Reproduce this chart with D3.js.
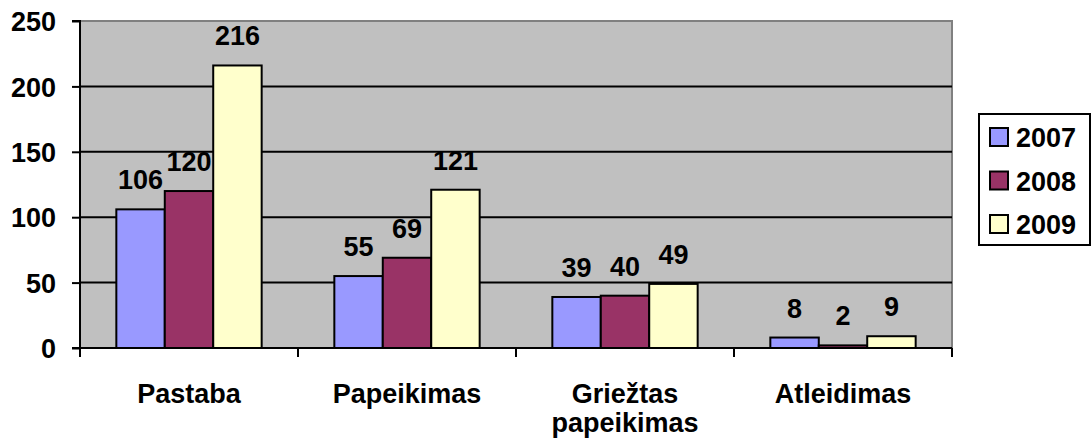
<!DOCTYPE html>
<html>
<head>
<meta charset="utf-8">
<script src="https://cdn.jsdelivr.net/npm/d3@7"></script>
<style>
  body { margin: 0; background: #fff; }
  text { font-family: "Liberation Sans", Arial, sans-serif; font-weight: bold; }
</style>
</head>
<body>
<div id="chart"></div>
<script>
// chart data
const categories = ["Pastaba", "Papeikimas", "Griežtas papeikimas", "Atleidimas"];
const years = ["2007", "2008", "2009"];
const values2007 = [106, 55, 39, 8];
const values2008 = [120, 69, 40, 2];
const values2009 = [216, 121, 49, 9];
const yTicks = [0, 50, 100, 150, 200, 250];

const series = [values2007, values2008, values2009];
const colors = ["#9999FF", "#993366", "#FFFFCC"];
const fontSize = 27;

// canvas
let width = 1092;
let height = 443;
let margin = {top: 21, right: 140, bottom: 95, left: 80};

const svg = d3.select("#chart").append("svg")
    .attr("width", width)
    .attr("height", height);

// scales
const x0 = d3.scaleBand()
    .domain(categories)
    .range([margin.left, width - margin.right])
    .paddingInner(0)
    .paddingOuter(0);

// gap width 150% -> bars take 3 / 4.5 of the category
const groupW = x0.bandwidth() * 3 / 4.5;
const x1 = d3.scaleBand()
    .domain(years)
    .range([0, groupW]);

const yScale = d3.scaleLinear()
    .domain([0, 250])
    .range([height - margin.bottom, margin.top]);

// plot background
svg.append("rect")
    .attr("x", margin.left)
    .attr("y", margin.top)
    .attr("width", width - margin.right - margin.left)
    .attr("height", height - margin.bottom - margin.top)
    .attr("fill", "#C0C0C0")
    .attr("stroke", "#808080")
    .attr("stroke-width", 2);

// gridlines
svg.selectAll("line.grid")
    .data(yTicks.filter(d => d > 0 && d < 250))
    .enter()
    .append("line")
    .attr("class", "grid")
    .attr("x1", margin.left)
    .attr("x2", width - margin.right)
    .attr("y1", d => yScale(d))
    .attr("y2", d => yScale(d))
    .attr("stroke", "#000")
    .attr("stroke-width", 2);

// bars
const groups = svg.selectAll("g.group")
    .data(categories)
    .enter()
    .append("g")
    .attr("class", "group")
    .attr("transform", d => `translate(${x0(d) + (x0.bandwidth() - groupW) / 2}, 0)`);

groups.selectAll("rect")
    .data((c, i) => years.map((yr, j) => ({year: yr, value: series[j][i], color: colors[j]})))
    .enter()
    .append("rect")
    .attr("x", d => x1(d.year))
    .attr("y", d => yScale(d.value))
    .attr("width", x1.bandwidth())
    .attr("height", d => yScale(0) - yScale(d.value))
    .attr("fill", d => d.color)
    .attr("stroke", "#000")
    .attr("stroke-width", 2);

// value labels
groups.selectAll("text")
    .data((c, i) => years.map((yr, j) => ({year: yr, value: series[j][i]})))
    .enter()
    .append("text")
    .attr("x", d => x1(d.year) + x1.bandwidth() / 2)
    .attr("y", d => yScale(d.value) - 20)
    .attr("text-anchor", "middle")
    .attr("font-size", fontSize)
    .text(d => d.value);

// y axis
const yAxis = d3.axisLeft(yScale).tickValues(yTicks).tickSize(8).tickPadding(16);
const gy = svg.append("g")
    .attr("transform", `translate(${margin.left}, 0)`)
    .call(yAxis);
gy.select(".domain").attr("stroke", "#000").attr("stroke-width", 2)
    .attr("d", `M-8,${yScale(250)}H0V${yScale(0)}`);
gy.selectAll(".tick line").attr("stroke-width", 2);
gy.selectAll(".tick text")
    .attr("font-size", fontSize)
    .attr("font-weight", "bold")
    .attr("font-family", "Liberation Sans, Arial, sans-serif")
    .attr("fill", "#000")
    .attr("dy", "0.36em");

// x axis line and ticks at category boundaries
svg.append("line")
    .attr("x1", margin.left - 8)
    .attr("x2", width - margin.right)
    .attr("y1", yScale(0))
    .attr("y2", yScale(0))
    .attr("stroke", "#000")
    .attr("stroke-width", 2);

const boundaries = categories.map(c => x0(c)).concat([width - margin.right]);
svg.selectAll("line.xtick")
    .data(boundaries)
    .enter()
    .append("line")
    .attr("class", "xtick")
    .attr("x1", d => d)
    .attr("x2", d => d)
    .attr("y1", yScale(0))
    .attr("y2", yScale(0) + 9)
    .attr("stroke", "#000")
    .attr("stroke-width", 2);

// category labels (wrap on the space for long names)
const catLabels = svg.selectAll("text.cat")
    .data(categories)
    .enter()
    .append("text")
    .attr("class", "cat")
    .attr("x", d => x0(d) + x0.bandwidth() / 2)
    .attr("y", yScale(0) + 55)
    .attr("text-anchor", "middle")
    .attr("font-size", fontSize);

catLabels.each(function (d) {
    const words = d.split(" ");
    const el = d3.select(this);
    words.forEach((w, i) => {
        el.append("tspan")
            .attr("x", x0(d) + x0.bandwidth() / 2)
            .attr("dy", i === 0 ? 0 : 29)
            .text(w);
    });
});

// legend
const legend = svg.append("g")
    .attr("transform", "translate(979, 114)");

legend.append("rect")
    .attr("x", 0)
    .attr("y", 0)
    .attr("width", 111)
    .attr("height", 131)
    .attr("fill", "#fff")
    .attr("stroke", "#000")
    .attr("stroke-width", 2);

legend.selectAll("rect.sw")
    .data(years)
    .enter()
    .append("rect")
    .attr("class", "sw")
    .attr("x", 11)
    .attr("y", (d, i) => 14 + i * 43.5)
    .attr("width", 18)
    .attr("height", 18)
    .attr("fill", (d, i) => colors[i])
    .attr("stroke", "#000")
    .attr("stroke-width", 2);

legend.selectAll("text")
    .data(years)
    .enter()
    .append("text")
    .attr("x", 37)
    .attr("y", (d, i) => 33 + i * 43.5)
    .attr("font-size", fontSize)
    .text(d => d);
</script>
</body>
</html>
